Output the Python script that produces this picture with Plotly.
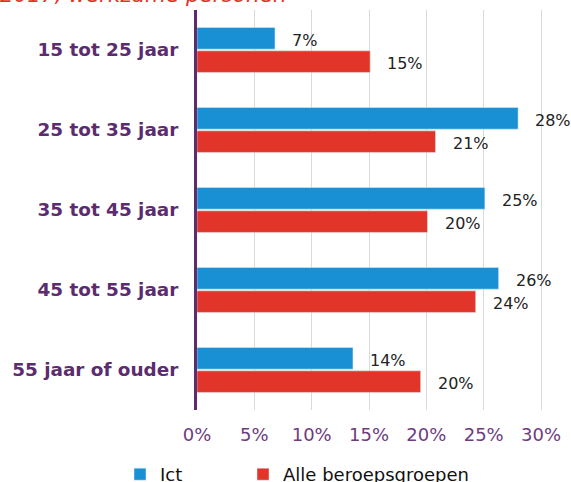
import plotly.graph_objects as go

categories = ["15 tot 25 jaar", "25 tot 35 jaar", "35 tot 45 jaar", "45 tot 55 jaar", "55 jaar of ouder"]
ict = [6.8, 28.0, 25.1, 26.3, 13.6]
alle = [15.1, 20.8, 20.1, 24.3, 19.5]
ict_labels = ["7%", "28%", "25%", "26%", "14%"]
alle_labels = ["15%", "21%", "20%", "24%", "20%"]
tick_vals = [0, 5, 10, 15, 20, 25, 30]
tick_text = ["0%", "5%", "10%", "15%", "20%", "25%", "30%"]

BLUE = "#1a90d4"
RED = "#e2352a"
PURPLE = "#5b2c6f"
TICKPURPLE = "#6e3b7e"

fig = go.Figure()
fig.add_trace(go.Bar(y=categories, x=ict, orientation="h", name="Ict", marker_color=BLUE,
                     legend="legend"))
fig.add_trace(go.Bar(y=categories, x=alle, orientation="h", name="Alle beroepsgroepen", marker_color=RED,
                     legend="legend2"))

annotations = []
for cat, v, t in zip(categories, ict, ict_labels):
    annotations.append(dict(x=v, y=cat, text=t, showarrow=False, xanchor="left", yanchor="middle",
                            xshift=15, yshift=10, font=dict(family="DejaVu Sans", size=16, color="#222")))
for cat, v, t in zip(categories, alle, alle_labels):
    annotations.append(dict(x=v, y=cat, text=t, showarrow=False, xanchor="left", yanchor="middle",
                            xshift=15, yshift=-13, font=dict(family="DejaVu Sans", size=16, color="#222")))
annotations.append(dict(xref="paper", yref="paper", x=-0.575, y=1.0, xanchor="left", yanchor="bottom",
                        text="2017, werkzame personen", showarrow=False, yshift=1,
                        font=dict(family="DejaVu Sans", size=21.5, color=RED, style="italic")))

legend_style = dict(orientation="h", xanchor="left", y=-0.115, yanchor="top",
                    font=dict(family="DejaVu Sans", size=18, color="#111"),
                    itemwidth=30, bgcolor="rgba(0,0,0,0)")

fig.update_layout(
    width=571, height=482,
    margin=dict(l=197, r=28, t=10, b=72, autoexpand=False),
    paper_bgcolor="white", plot_bgcolor="white",
    barmode="group", bargap=0.4175, bargroupgap=0.073,
    annotations=annotations,
    showlegend=True,
    legend=dict(x=-0.2225, **legend_style),
    legend2=dict(x=0.133, **legend_style),
    xaxis=dict(range=[0, 30.17], tickvals=tick_vals, ticktext=tick_text,
               showgrid=True, gridcolor="#d9d9d9", gridwidth=1, zeroline=False,
               tickfont=dict(family="DejaVu Sans", size=18, color=TICKPURPLE),
               ticks="", ticklabelstandoff=12, fixedrange=True, automargin=False),
    yaxis=dict(autorange="reversed", showline=True, linecolor=PURPLE, linewidth=3,
               tickfont=dict(family="DejaVu Sans", size=18.4, color=PURPLE, weight="bold"),
               ticks="", ticklabelstandoff=12, showgrid=False, fixedrange=True, automargin=False),
)

fig.write_html("out.html", config={"displayModeBar": False},
               post_script="document.body.style.margin='0';document.body.style.overflow='hidden';")
